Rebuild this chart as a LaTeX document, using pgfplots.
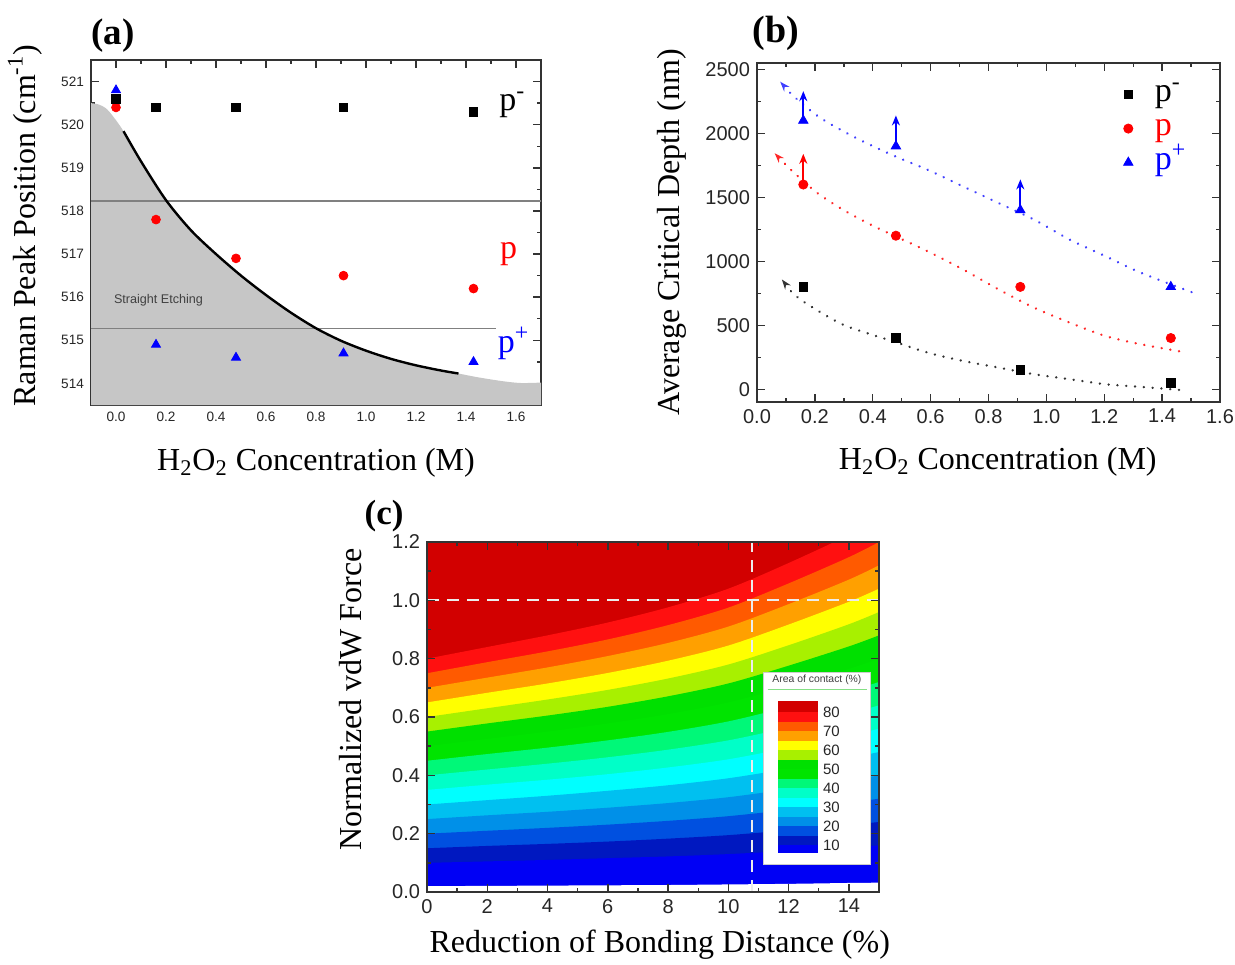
\documentclass[border=0pt]{standalone}
\usepackage{fontspec}
\setmainfont{Liberation Serif}
\setsansfont{Liberation Sans}
\usepackage{pgfplots}
\usepackage{pgfplotstable}
\pgfplotsset{compat=1.18}
\usetikzlibrary{arrows.meta}

% contour band colours, named by lower bound (%)
\definecolor{b80}{HTML}{D20000}
\definecolor{b75}{HTML}{FF1010}
\definecolor{b70}{HTML}{FF5A00}
\definecolor{b65}{HTML}{FFA000}
\definecolor{b60}{HTML}{FFFF00}
\definecolor{b55}{HTML}{A8F000}
\definecolor{b50}{HTML}{00E000}
\definecolor{b45}{HTML}{00E400}
\definecolor{b40}{HTML}{00F878}
\definecolor{b35}{HTML}{00FFC8}
\definecolor{b30}{HTML}{00FFFF}
\definecolor{b25}{HTML}{00C0F0}
\definecolor{b20}{HTML}{0090E8}
\definecolor{b15}{HTML}{0050E0}
\definecolor{b10}{HTML}{0018C0}
\definecolor{b00}{HTML}{0000F5}

% level boundaries of panel (c)
\pgfplotstableread{
x  l80   l75   l70   l65   l60   l55   l50   l45   l40   l35   l30   l25   l20   l15   l10   l02
0  0.800 0.750 0.700 0.650 0.600 0.550 0.500 0.450 0.400 0.350 0.300 0.250 0.200 0.150 0.100 0.020
2  0.840 0.788 0.735 0.683 0.630 0.578 0.525 0.473 0.420 0.368 0.315 0.263 0.210 0.158 0.105 0.021
4  0.880 0.825 0.770 0.715 0.660 0.605 0.550 0.495 0.440 0.385 0.330 0.275 0.220 0.165 0.110 0.022
6  0.924 0.866 0.809 0.751 0.693 0.635 0.578 0.520 0.462 0.404 0.347 0.289 0.231 0.173 0.116 0.023
8  0.976 0.915 0.854 0.793 0.732 0.671 0.610 0.549 0.488 0.427 0.366 0.305 0.244 0.183 0.122 0.024
10 1.040 0.975 0.910 0.845 0.780 0.715 0.650 0.585 0.520 0.455 0.390 0.325 0.260 0.195 0.130 0.026
12 1.128 1.058 0.987 0.917 0.846 0.776 0.705 0.635 0.564 0.494 0.423 0.353 0.282 0.212 0.141 0.028
14 1.224 1.148 1.071 0.995 0.918 0.842 0.765 0.689 0.612 0.536 0.459 0.383 0.306 0.230 0.153 0.031
15 1.280 1.200 1.120 1.040 0.960 0.880 0.800 0.720 0.640 0.560 0.480 0.400 0.320 0.240 0.160 0.032
}\contour

\pgfplotsset{
  panel/.style={
    scale only axis,
    anchor=south west,
    clip mode=individual,
    axis line style={black!80, line width=0.8pt},
    tick align=inside,
    tick style={black!80, line width=0.7pt},
    major tick length=4pt, minor tick length=2.2pt,
    /pgf/number format/assume math mode=true,
    tick label style={font=\sffamily, text=black!85},
    label style={font=\fontsize{16}{18}\selectfont},
    xlabel style={anchor=center},
    ylabel style={anchor=center},
  },
  onedec/.style={/pgf/number format/.cd, fixed, fixed zerofill, precision=1},
}

\begin{document}
\begin{tikzpicture}
\path[use as bounding box] (0,0) rectangle (617.5pt,-482pt);

% ---------------- (a) ----------------
\begin{axis}[panel,
  at={(45.5pt,-202.5pt)}, width=225pt, height=172.5pt,
  xmin=-0.1, xmax=1.7, ymin=513.5, ymax=521.5,
  xtick={0,0.2,0.4,0.6,0.8,1.0,1.2,1.4,1.6},
  ytick={514,515,516,517,518,519,520,521},
  minor x tick num=1, minor y tick num=1,
  xticklabel style={onedec},
  tick label style={font=\sffamily\fontsize{6.8}{8}\selectfont},
  xlabel={H\textsubscript{2}O\textsubscript{2} Concentration (M)},
  ylabel={Raman Peak Position (cm\textsuperscript{-1})},
  xlabel style={at={(axis description cs:0.5,-0.168)}},
  ylabel style={at={(axis description cs:-0.147,0.52)}},
  mark size=2.2pt,
]
\addplot[fill=gray!45, draw=none, smooth] coordinates {
  (-0.1,520.5) (-0.07,520.47) (-0.04,520.38) (-0.01,520.18) (0.03,519.85)
  (0.1,519.15) (0.2,518.25) (0.3,517.55) (0.4,517.0) (0.5,516.5) (0.6,516.05)
  (0.7,515.64) (0.8,515.28) (0.9,514.99) (1.0,514.76) (1.1,514.57) (1.2,514.42)
  (1.3,514.3) (1.37,514.23) (1.45,514.14) (1.55,514.05) (1.62,514.01) (1.7,514.02)
} \closedcycle;
\addplot[gray, line width=0.7pt] coordinates {(-0.1,518.23) (1.7,518.23)};
\addplot[gray, line width=0.7pt] coordinates {(-0.1,515.28) (1.52,515.28)};
\addplot[black, line width=1.2pt, smooth] coordinates {
  (0.03,519.85) (0.1,519.15) (0.2,518.25) (0.3,517.55) (0.4,517.0) (0.5,516.5)
  (0.6,516.05) (0.7,515.64) (0.8,515.28) (0.9,514.99) (1.0,514.76) (1.1,514.57)
  (1.2,514.42) (1.3,514.3) (1.37,514.23)
};
\node[font=\sffamily\fontsize{6.3}{7}\selectfont, text=black!75] at (axis cs:0.17,515.93) {Straight Etching};
% p
\addplot[only marks, mark=*, red, mark options={fill=red}] coordinates {
  (0,520.4) (0.16,517.8) (0.48,516.9) (0.91,516.5) (1.43,516.2)};
% p-
\addplot[only marks, mark=square*, black, mark size=2.1pt] coordinates {
  (0,520.6) (0.16,520.4) (0.48,520.4) (0.91,520.4) (1.43,520.3)};
% p+
\addplot[only marks, mark=triangle*, blue, mark size=2.6pt] coordinates {
  (0,520.8) (0.16,514.9) (0.48,514.6) (0.91,514.7) (1.43,514.5)};
\node[font=\fontsize{17}{17}\selectfont] at (axis cs:1.585,520.46) {p\textsuperscript{-}};
\node[font=\fontsize{17}{17}\selectfont, text=red] at (axis cs:1.57,517.0) {p};
\node[font=\fontsize{17}{17}\selectfont, text=blue] at (axis cs:1.59,514.93) {p\textsuperscript{+}};
\node[font=\bfseries\fontsize{18.5}{20}\selectfont] at (axis description cs:0.049,1.072) {(a)};
\end{axis}

% ---------------- (b) ----------------
\begin{axis}[panel,
  at={(378.5pt,-201pt)}, width=231.5pt, height=169.5pt,
  xmin=0, xmax=1.6, ymin=-100, ymax=2550,
  xtick={0,0.2,0.4,0.6,0.8,1.0,1.2,1.4,1.6},
  ytick={0,500,1000,1500,2000,2500},
  minor x tick num=1, minor y tick num=1,
  xticklabel style={onedec},
  yticklabel style={/pgf/number format/1000 sep={}},
  tick label style={font=\sffamily\fontsize{10}{12}\selectfont},
  xlabel={H\textsubscript{2}O\textsubscript{2} Concentration (M)},
  ylabel={Average Critical Depth (nm)},
  xlabel style={at={(axis description cs:0.52,-0.177)}},
  ylabel style={at={(axis description cs:-0.184,0.5)}},
  mark size=2.1pt,
  legend style={draw=none, fill=none, at={(axis description cs:0.778,0.97)}, anchor=north west,
    font=\fontsize{17}{17}\selectfont,
    nodes={inner sep=1pt, text height=11pt, text depth=4pt},
    /tikz/every odd column/.append style={column sep=10pt}},
  legend cell align=left,
]
% dotted fits
\addplot[forget plot, black!80, line width=1.3pt, dash pattern=on 0.01pt off 4.4pt, line cap=round,
  smooth, {Stealth[length=5pt,width=3.5pt]}-] coordinates {
  (0.086,858) (0.135,728) (0.203,624) (0.295,507) (0.393,429) (0.467,377) (0.59,286)
  (0.712,221) (0.835,169) (0.958,117) (1.081,78) (1.204,39) (1.327,18) (1.474,-8)};
\addplot[forget plot, red!85, line width=1.3pt, dash pattern=on 0.01pt off 4.4pt, line cap=round,
  smooth, {Stealth[length=5pt,width=3.5pt]}-] coordinates {
  (0.061,1845) (0.117,1715) (0.209,1533) (0.307,1390) (0.405,1273) (0.479,1195) (0.59,1078)
  (0.712,936) (0.835,780) (0.958,637) (1.081,520) (1.204,416) (1.327,351) (1.486,286)};
\addplot[forget plot, blue!75, line width=1.3pt, dash pattern=on 0.01pt off 4.4pt, line cap=round,
  smooth, {Stealth[length=5pt,width=3.5pt]}-] coordinates {
  (0.08,2404) (0.135,2274) (0.221,2118) (0.344,1962) (0.479,1819) (0.59,1715) (0.712,1585)
  (0.835,1455) (0.958,1325) (1.081,1169) (1.204,1040) (1.327,910) (1.523,741)};
% lower-bound arrows
\addplot[forget plot, blue, line width=1.1pt, -{Stealth[length=5pt,width=4pt]},
  quiver={u=0, v=\thisrow{dy}}] table {
x    y    dy
0.16 2100 230
0.48 1900 240
0.91 1400 240
};
\addplot[forget plot, red, line width=1.1pt, -{Stealth[length=5pt,width=4pt]},
  quiver={u=0, v=\thisrow{dy}}] table {
x    y    dy
0.16 1600 240
};
\addplot[only marks, mark=square*, black] coordinates {
  (0.16,800) (0.48,400) (0.91,150) (1.43,50)};
\addlegendentry{p\textsuperscript{-}}
\addplot[only marks, mark=*, red, mark options={fill=red}, mark size=2.3pt] coordinates {
  (0.16,1600) (0.48,1200) (0.91,800) (1.43,400)};
\addlegendentry{\textcolor{red}{p}}
\addplot[only marks, mark=triangle*, blue, mark size=2.7pt] coordinates {
  (0.16,2100) (0.48,1900) (0.91,1400) (1.43,800)};
\addlegendentry{\textcolor{blue}{p\textsuperscript{+}}}
\node[font=\bfseries\fontsize{19}{20}\selectfont] at (axis description cs:0.041,1.088) {(b)};
\end{axis}

% ---------------- (c) ----------------
\begin{axis}[panel,
  at={(213.5pt,-446pt)}, width=226pt, height=175pt,
  xmin=0, xmax=15, ymin=0, ymax=1.2,
  xtick={0,2,4,6,8,10,12,14},
  ytick={0,0.2,0.4,0.6,0.8,1.0,1.2},
  minor x tick num=1, minor y tick num=1,
  yticklabel style={onedec},
  tick label style={font=\sffamily\fontsize{10}{12}\selectfont},
  xlabel={Reduction of Bonding Distance (\%)},
  ylabel={Normalized vdW Force},
  xlabel style={at={(axis description cs:0.515,-0.151)}},
  ylabel style={at={(axis description cs:-0.17,0.55)}},
  axis on top,
]
\addplot[fill=b80, draw=none] coordinates {(0,1.2) (15,1.2)} \closedcycle;
\addplot[fill=b75, draw=none, smooth] table[y=l80] {\contour} \closedcycle;
\addplot[fill=b70, draw=none, smooth] table[y=l75] {\contour} \closedcycle;
\addplot[fill=b65, draw=none, smooth] table[y=l70] {\contour} \closedcycle;
\addplot[fill=b60, draw=none, smooth] table[y=l65] {\contour} \closedcycle;
\addplot[fill=b55, draw=none, smooth] table[y=l60] {\contour} \closedcycle;
\addplot[fill=b50, draw=none, smooth] table[y=l55] {\contour} \closedcycle;
\addplot[fill=b45, draw=none, smooth] table[y=l50] {\contour} \closedcycle;
\addplot[fill=b40, draw=none, smooth] table[y=l45] {\contour} \closedcycle;
\addplot[fill=b35, draw=none, smooth] table[y=l40] {\contour} \closedcycle;
\addplot[fill=b30, draw=none, smooth] table[y=l35] {\contour} \closedcycle;
\addplot[fill=b25, draw=none, smooth] table[y=l30] {\contour} \closedcycle;
\addplot[fill=b20, draw=none, smooth] table[y=l25] {\contour} \closedcycle;
\addplot[fill=b15, draw=none, smooth] table[y=l20] {\contour} \closedcycle;
\addplot[fill=b10, draw=none, smooth] table[y=l15] {\contour} \closedcycle;
\addplot[fill=b00, draw=none, smooth] table[y=l10] {\contour} \closedcycle;
\addplot[fill=white, draw=none, smooth] table[y=l02] {\contour} \closedcycle;
% guide lines
\addplot[white!85!gray, line width=1pt, dash pattern=on 6pt off 4pt] coordinates {(0,1.0) (15,1.0)};
\addplot[white!85!gray, line width=1pt, dash pattern=on 6pt off 4pt] coordinates {(10.8,0) (10.8,1.2)};
% colour-scale box
\fill[white, draw=gray!40, line width=0.4pt] (axis cs:11.15,0.096) rectangle (axis cs:14.73,0.754);
\draw[green!60!gray!60, line width=0.5pt] (axis cs:11.3,0.696) -- (axis cs:14.6,0.696);
\node[font=\sffamily\fontsize{5.2}{6}\selectfont, text=black!75] at (axis cs:12.94,0.727) {Area of contact (\%)};
\node[font=\bfseries\fontsize{17.5}{19}\selectfont] at (axis description cs:-0.095,1.075) {(c)};
\end{axis}

% colour scale
\begin{axis}[
  scale only axis, anchor=south west,
  at={(389pt,-426.5pt)}, width=20pt, height=76pt,
  xmin=-0.5, xmax=0.5, ymin=5.8, ymax=85.8,
  ybar stacked, bar width=1,
  axis line style={draw=none}, tick style={draw=none},
  xtick=\empty, ytick={10,20,30,40,50,60,70,80},
  yticklabel pos=right,
  /pgf/number format/assume math mode=true,
  yticklabel style={font=\sffamily\fontsize{7.5}{8}\selectfont, text=black!85, xshift=-1pt},
]
\addplot[fill=b00, draw=none] coordinates {(0,10)};
\addplot[fill=b10, draw=none] coordinates {(0,5)};
\addplot[fill=b15, draw=none] coordinates {(0,5)};
\addplot[fill=b20, draw=none] coordinates {(0,5)};
\addplot[fill=b25, draw=none] coordinates {(0,5)};
\addplot[fill=b30, draw=none] coordinates {(0,5)};
\addplot[fill=b35, draw=none] coordinates {(0,5)};
\addplot[fill=b40, draw=none] coordinates {(0,5)};
\addplot[fill=b45, draw=none] coordinates {(0,5)};
\addplot[fill=b50, draw=none] coordinates {(0,5)};
\addplot[fill=b55, draw=none] coordinates {(0,5)};
\addplot[fill=b60, draw=none] coordinates {(0,5)};
\addplot[fill=b65, draw=none] coordinates {(0,5)};
\addplot[fill=b70, draw=none] coordinates {(0,5)};
\addplot[fill=b75, draw=none] coordinates {(0,5)};
\addplot[fill=b80, draw=none] coordinates {(0,10)};
\end{axis}
\end{tikzpicture}
\end{document}
